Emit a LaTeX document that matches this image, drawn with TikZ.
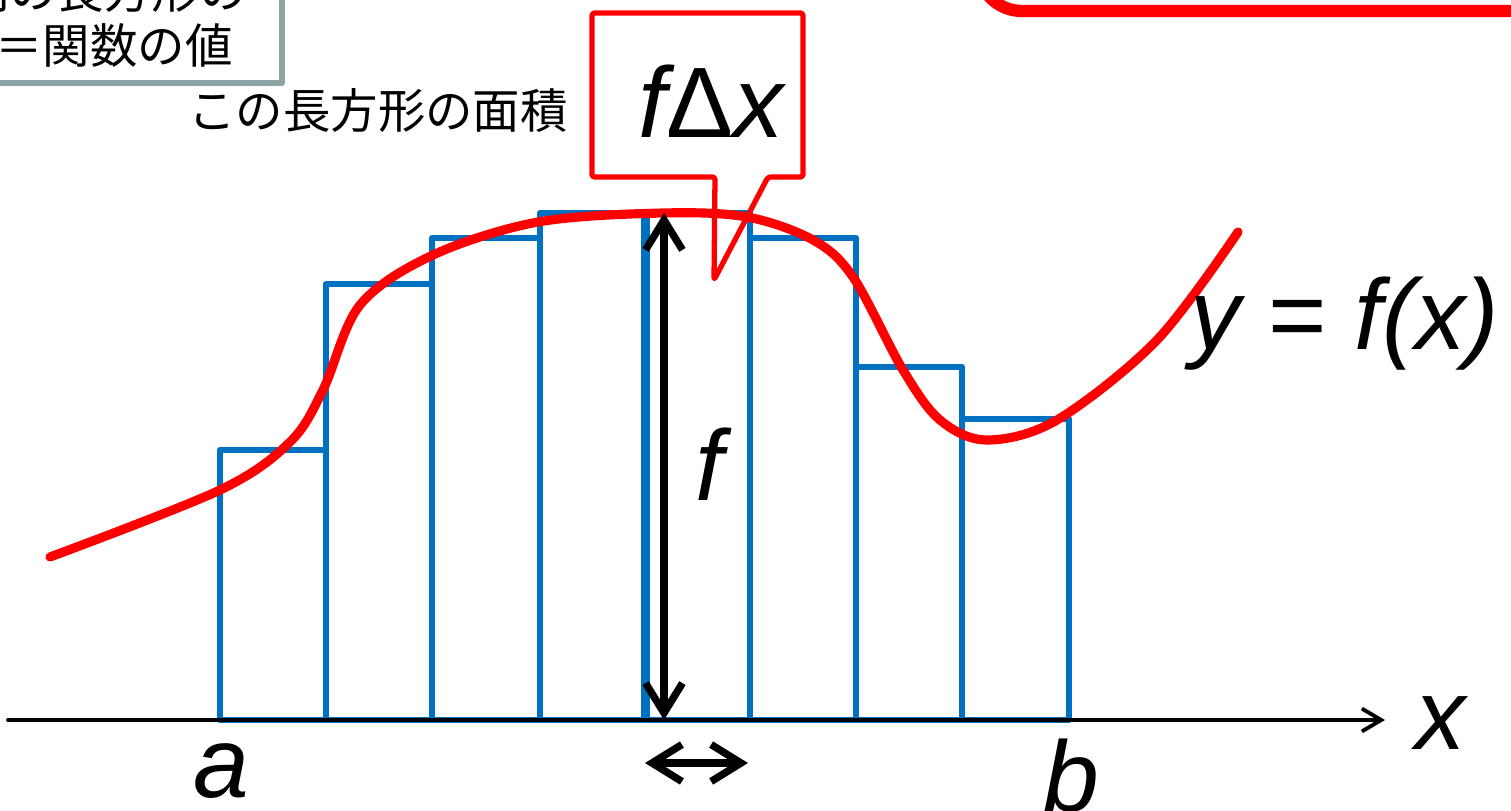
\documentclass[tikz,border=0pt]{standalone}
\usepackage{fontspec}
\setmainfont{Liberation Sans}
\newfontfamily\jpfont{Noto Sans CJK JP}
\usetikzlibrary{arrows.meta}
\definecolor{barblue}{RGB}{0,112,192}
\definecolor{boxgray}{RGB}{140,166,166}

\begin{document}
\begin{tikzpicture}[x=0.02cm, y=-0.02cm, >={Straight Barb[length=17pt,width=21pt]}, line cap=round, line join=round,
  big/.style={font=\fontsize{57}{62}\selectfont\itshape, inner sep=0, anchor=base west},
  jp/.style={font=\jpfont\fontsize{27}{32}\selectfont, inner sep=0}]
  \useasboundingbox (0,0) rectangle (1511,811);
  \clip (0,0) rectangle (1511,811);

  % note box, top left (cut off by the page)
  \draw[boxgray, line width=3pt, fill=white] (-40,-40) rectangle (282,83);
  \node[jp, anchor=base east] (note1) at (247,9) {区間の長方形の};
  \node[jp, anchor=base east] (note2) at (233,64) {高さ＝関数の値};

  % red frame, top right (cut off by the page)
  \draw[red, line width=7pt, rounded corners=25pt] (978,-120) rectangle (1620,11);

  % rectangles
  \draw[barblue, line width=3.6pt] (220,720) rectangle (326,450);
  \draw[barblue, line width=3.6pt] (326,720) rectangle (432,284);
  \draw[barblue, line width=3.6pt] (432,720) rectangle (540,238);
  \draw[barblue, line width=3.6pt] (540,720) rectangle (644,213);
  \draw[barblue, line width=3.6pt] (647,720) rectangle (750,213);
  \draw[barblue, line width=3.6pt] (750,720) rectangle (856,238);
  \draw[barblue, line width=3.6pt] (856,720) rectangle (962,367);
  \draw[barblue, line width=3.6pt] (962,720) rectangle (1069,419);

  % x axis
  \coordinate (O) at (8,720);
  \coordinate (X) at (1385,720);
  \draw[->, >={Straight Barb[length=11pt,width=13pt]}, line width=2.2pt] (O) -- (X);
  \node[big] (xlabel) at (1415,749) {x};
  \node[big] (alabel) at (193,797) {a};
  \node[big] (blabel) at (1043,811) {b};

  % y = f(x)
  \draw[red, line width=5.2pt] plot[smooth, tension=0.55] coordinates {
    (50,557) (220,490) (290,442) (323,390) (360,305) (433,255) (538,222)
    (663,213) (747,217) (813,240) (853,277) (903,370) (940,420) (987,440)
    (1057,420) (1157,340) (1238,232)};
  \node[big] (curve) at (1190,349) {y \upshape= \itshape f(x)};

  % height f and width dx
  \coordinate (F1) at (664,720);
  \coordinate (F2) at (664,213);
  \draw[<->, line width=4.2pt] (F1) -- (F2);
  \node[big] (flabel) at (695,500) {f};
  \coordinate (D1) at (645,763);
  \coordinate (D2) at (748,763);
  \draw[<->, line width=4.2pt] (D1) -- (D2);

  % callout
  \draw[red, line width=3pt, rounded corners=1.5pt] (592,13) -- (803,13) -- (803,177) -- (768,177)
    -- (714,280) -- (715,177) -- (592,177) -- cycle;
  \node[big] (area) at (638,137) {f\upshape Δ\itshape x};
  \node[jp, anchor=base west] (arealabel) at (188,129) {この長方形の面積};
\end{tikzpicture}
\end{document}
